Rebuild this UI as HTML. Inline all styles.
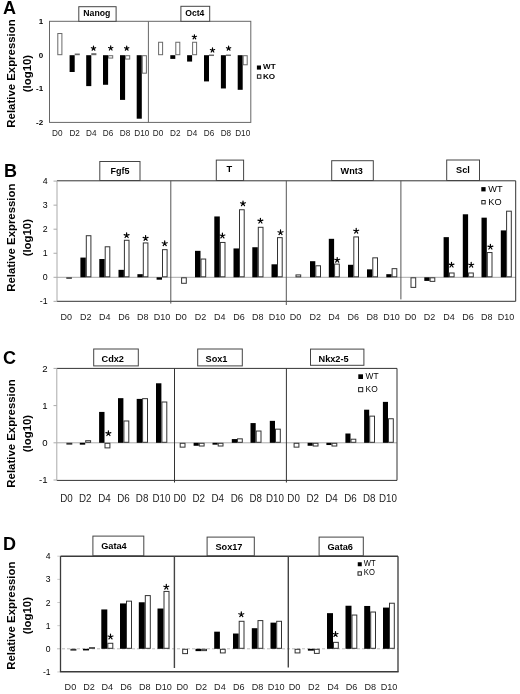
<!DOCTYPE html>
<html><head><meta charset="utf-8"><style>
html,body{margin:0;padding:0;background:#fff;}
svg{display:block;filter:blur(0.35px);}
text{font-family:"Liberation Sans", sans-serif;}
</style></head><body>
<svg width="520" height="694" viewBox="0 0 520 694">
<rect x="0" y="0" width="520" height="694" fill="#fff"/>
<text x="3.00" y="14.20" font-size="18" font-weight="bold" text-anchor="start" fill="#000" >A</text>
<text transform="translate(14.80,73.50) rotate(-90)" font-size="11.4" font-weight="bold" text-anchor="middle" fill="#000">Relative Expression</text>
<text transform="translate(30.50,73.50) rotate(-90)" font-size="11.4" font-weight="bold" text-anchor="middle" fill="#000">(log10)</text>
<text x="43.10" y="24.10" font-size="8.0" font-weight="bold" text-anchor="end" fill="#000" >1</text>
<text x="43.10" y="57.70" font-size="8.0" font-weight="bold" text-anchor="end" fill="#000" >0</text>
<text x="43.10" y="91.30" font-size="8.0" font-weight="bold" text-anchor="end" fill="#000" >-1</text>
<text x="43.10" y="124.90" font-size="8.0" font-weight="bold" text-anchor="end" fill="#000" >-2</text>
<rect x="49.50" y="21.30" width="201.30" height="101.10" fill="none" stroke="#666" stroke-width="1"/>
<line x1="148.40" y1="21.30" x2="148.40" y2="122.40" stroke="#666" stroke-width="1" />
<rect x="78.80" y="6.70" width="37.30" height="14.60" fill="#fff" stroke="#444" stroke-width="1"/>
<text x="83.30" y="16.10" font-size="8.7" font-weight="bold" text-anchor="start" fill="#000" >Nanog</text>
<rect x="180.90" y="6.30" width="28.80" height="15.00" fill="#fff" stroke="#444" stroke-width="1"/>
<text x="185.30" y="16.00" font-size="8.6" font-weight="bold" text-anchor="start" fill="#000" >Oct4</text>
<rect x="57.80" y="33.52" width="4.10" height="21.18" fill="#fff" stroke="#6a6a6a" stroke-width="1"/>
<rect x="69.60" y="55.20" width="5.10" height="16.80" fill="#000"/>
<rect x="75.20" y="54.02" width="4.10" height="0.68" fill="#fff" stroke="#6a6a6a" stroke-width="1"/>
<rect x="86.20" y="55.20" width="5.10" height="30.91" fill="#000"/>
<rect x="91.80" y="53.68" width="4.10" height="1.02" fill="#fff" stroke="#6a6a6a" stroke-width="1"/>
<rect x="103.00" y="55.20" width="5.10" height="29.57" fill="#000"/>
<rect x="108.60" y="55.70" width="4.10" height="2.36" fill="#fff" stroke="#6a6a6a" stroke-width="1"/>
<rect x="120.00" y="55.20" width="5.10" height="44.69" fill="#000"/>
<rect x="125.60" y="55.70" width="4.10" height="3.37" fill="#fff" stroke="#6a6a6a" stroke-width="1"/>
<rect x="136.70" y="55.20" width="5.10" height="63.50" fill="#000"/>
<rect x="142.30" y="55.70" width="4.10" height="17.48" fill="#fff" stroke="#6a6a6a" stroke-width="1"/>
<path d="M93.50,48.40L93.50,46.15M93.50,48.40L95.64,47.70M93.50,48.40L94.82,50.22M93.50,48.40L92.18,50.22M93.50,48.40L91.36,47.70" stroke="#000" stroke-width="1.2" stroke-linecap="round" fill="none"/>
<path d="M110.70,48.20L110.70,45.95M110.70,48.20L112.84,47.50M110.70,48.20L112.02,50.02M110.70,48.20L109.38,50.02M110.70,48.20L108.56,47.50" stroke="#000" stroke-width="1.2" stroke-linecap="round" fill="none"/>
<path d="M126.70,48.40L126.70,46.15M126.70,48.40L128.84,47.70M126.70,48.40L128.02,50.22M126.70,48.40L125.38,50.22M126.70,48.40L124.56,47.70" stroke="#000" stroke-width="1.2" stroke-linecap="round" fill="none"/>
<text x="57.30" y="135.80" font-size="8.2" font-weight="normal" text-anchor="middle" fill="#222" >D0</text>
<text x="74.70" y="135.80" font-size="8.2" font-weight="normal" text-anchor="middle" fill="#222" >D2</text>
<text x="91.30" y="135.80" font-size="8.2" font-weight="normal" text-anchor="middle" fill="#222" >D4</text>
<text x="108.10" y="135.80" font-size="8.2" font-weight="normal" text-anchor="middle" fill="#222" >D6</text>
<text x="125.10" y="135.80" font-size="8.2" font-weight="normal" text-anchor="middle" fill="#222" >D8</text>
<text x="141.80" y="135.80" font-size="8.2" font-weight="normal" text-anchor="middle" fill="#222" >D10</text>
<rect x="158.60" y="42.26" width="4.00" height="12.44" fill="#fff" stroke="#6a6a6a" stroke-width="1"/>
<rect x="170.30" y="55.20" width="5.00" height="3.70" fill="#000"/>
<rect x="175.80" y="42.26" width="4.00" height="12.44" fill="#fff" stroke="#6a6a6a" stroke-width="1"/>
<rect x="187.10" y="55.20" width="5.00" height="6.38" fill="#000"/>
<rect x="192.60" y="42.26" width="4.00" height="12.44" fill="#fff" stroke="#6a6a6a" stroke-width="1"/>
<rect x="204.00" y="55.20" width="5.00" height="26.21" fill="#000"/>
<rect x="209.50" y="55.03" width="4.00" height="0.50" fill="#fff" stroke="#6a6a6a" stroke-width="1"/>
<rect x="220.90" y="55.20" width="5.00" height="33.26" fill="#000"/>
<rect x="226.40" y="55.03" width="4.00" height="0.50" fill="#fff" stroke="#6a6a6a" stroke-width="1"/>
<rect x="237.70" y="55.20" width="5.00" height="34.61" fill="#000"/>
<rect x="243.20" y="55.70" width="4.00" height="9.08" fill="#fff" stroke="#6a6a6a" stroke-width="1"/>
<path d="M194.40,37.00L194.40,34.75M194.40,37.00L196.54,36.30M194.40,37.00L195.72,38.82M194.40,37.00L193.08,38.82M194.40,37.00L192.26,36.30" stroke="#000" stroke-width="1.2" stroke-linecap="round" fill="none"/>
<path d="M212.50,50.20L212.50,47.95M212.50,50.20L214.64,49.50M212.50,50.20L213.82,52.02M212.50,50.20L211.18,52.02M212.50,50.20L210.36,49.50" stroke="#000" stroke-width="1.2" stroke-linecap="round" fill="none"/>
<path d="M228.60,48.40L228.60,46.15M228.60,48.40L230.74,47.70M228.60,48.40L229.92,50.22M228.60,48.40L227.28,50.22M228.60,48.40L226.46,47.70" stroke="#000" stroke-width="1.2" stroke-linecap="round" fill="none"/>
<text x="158.10" y="135.80" font-size="8.2" font-weight="normal" text-anchor="middle" fill="#222" >D0</text>
<text x="175.30" y="135.80" font-size="8.2" font-weight="normal" text-anchor="middle" fill="#222" >D2</text>
<text x="192.10" y="135.80" font-size="8.2" font-weight="normal" text-anchor="middle" fill="#222" >D4</text>
<text x="209.00" y="135.80" font-size="8.2" font-weight="normal" text-anchor="middle" fill="#222" >D6</text>
<text x="225.90" y="135.80" font-size="8.2" font-weight="normal" text-anchor="middle" fill="#222" >D8</text>
<text x="242.70" y="135.80" font-size="8.2" font-weight="normal" text-anchor="middle" fill="#222" >D10</text>
<rect x="256.90" y="65.50" width="4.10" height="4.10" fill="#000"/>
<rect x="257.40" y="74.80" width="3.50" height="3.50" fill="#fff" stroke="#222" stroke-width="1"/>
<text x="263.00" y="69.30" font-size="8.1" font-weight="bold" text-anchor="start" fill="#000" >WT</text>
<text x="263.00" y="78.70" font-size="8.1" font-weight="bold" text-anchor="start" fill="#000" >KO</text>
<text x="4.00" y="176.50" font-size="18" font-weight="bold" text-anchor="start" fill="#000" >B</text>
<text transform="translate(14.80,237.70) rotate(-90)" font-size="11.4" font-weight="bold" text-anchor="middle" fill="#000">Relative Expression</text>
<text transform="translate(30.50,237.70) rotate(-90)" font-size="11.4" font-weight="bold" text-anchor="middle" fill="#000">(log10)</text>
<text x="47.60" y="184.20" font-size="8.8" font-weight="normal" text-anchor="end" fill="#000" >4</text>
<line x1="53.50" y1="181.10" x2="57.00" y2="181.10" stroke="#aaa" stroke-width="1" />
<text x="47.60" y="208.25" font-size="8.8" font-weight="normal" text-anchor="end" fill="#000" >3</text>
<line x1="53.50" y1="205.15" x2="57.00" y2="205.15" stroke="#aaa" stroke-width="1" />
<text x="47.60" y="232.30" font-size="8.8" font-weight="normal" text-anchor="end" fill="#000" >2</text>
<line x1="53.50" y1="229.20" x2="57.00" y2="229.20" stroke="#aaa" stroke-width="1" />
<text x="47.60" y="256.35" font-size="8.8" font-weight="normal" text-anchor="end" fill="#000" >1</text>
<line x1="53.50" y1="253.25" x2="57.00" y2="253.25" stroke="#aaa" stroke-width="1" />
<text x="47.60" y="280.40" font-size="8.8" font-weight="normal" text-anchor="end" fill="#000" >0</text>
<line x1="53.50" y1="277.30" x2="57.00" y2="277.30" stroke="#aaa" stroke-width="1" />
<text x="47.60" y="304.45" font-size="8.8" font-weight="normal" text-anchor="end" fill="#000" >-1</text>
<line x1="53.50" y1="301.35" x2="57.00" y2="301.35" stroke="#aaa" stroke-width="1" />
<line x1="57.00" y1="277.30" x2="515.70" y2="277.30" stroke="#aaa" stroke-width="1" />
<line x1="57.00" y1="180.80" x2="515.70" y2="180.80" stroke="#333" stroke-width="1" />
<line x1="57.00" y1="301.30" x2="515.70" y2="301.30" stroke="#333" stroke-width="1" />
<line x1="515.70" y1="180.80" x2="515.70" y2="301.30" stroke="#333" stroke-width="1" />
<line x1="57.00" y1="180.80" x2="57.00" y2="301.30" stroke="#aaa" stroke-width="1" />
<line x1="170.80" y1="180.80" x2="170.80" y2="303.60" stroke="#555" stroke-width="1" />
<line x1="286.30" y1="180.80" x2="286.30" y2="305.00" stroke="#555" stroke-width="1" />
<line x1="400.90" y1="180.80" x2="400.90" y2="299.40" stroke="#555" stroke-width="1" />
<rect x="99.80" y="161.50" width="40.20" height="19.00" fill="#fff" stroke="#444" stroke-width="1"/>
<text x="110.40" y="173.75" font-size="9" font-weight="bold" text-anchor="start" fill="#000" >Fgf5</text>
<rect x="216.30" y="160.10" width="27.30" height="20.40" fill="#fff" stroke="#444" stroke-width="1"/>
<text x="226.60" y="172.30" font-size="9.3" font-weight="bold" text-anchor="start" fill="#000" >T</text>
<rect x="331.70" y="160.70" width="41.60" height="19.80" fill="#fff" stroke="#444" stroke-width="1"/>
<text x="340.60" y="173.70" font-size="9.1" font-weight="bold" text-anchor="start" fill="#000" >Wnt3</text>
<rect x="446.70" y="160.00" width="32.80" height="20.50" fill="#fff" stroke="#444" stroke-width="1"/>
<text x="456.10" y="172.70" font-size="9.2" font-weight="bold" text-anchor="start" fill="#000" >Scl</text>
<rect x="66.80" y="277.80" width="4.60" height="0.50" fill="#fff" stroke="#333" stroke-width="1"/>
<rect x="80.40" y="257.58" width="5.40" height="19.72" fill="#000"/>
<rect x="86.30" y="235.71" width="4.60" height="41.09" fill="#fff" stroke="#333" stroke-width="1"/>
<rect x="99.30" y="259.02" width="5.40" height="18.28" fill="#000"/>
<rect x="105.20" y="246.78" width="4.60" height="30.02" fill="#fff" stroke="#333" stroke-width="1"/>
<rect x="118.50" y="269.84" width="5.40" height="7.46" fill="#000"/>
<rect x="124.40" y="240.28" width="4.60" height="36.52" fill="#fff" stroke="#333" stroke-width="1"/>
<rect x="137.40" y="274.17" width="5.40" height="3.13" fill="#000"/>
<rect x="143.30" y="242.93" width="4.60" height="33.87" fill="#fff" stroke="#333" stroke-width="1"/>
<rect x="156.60" y="277.30" width="5.40" height="2.40" fill="#000"/>
<rect x="162.50" y="249.66" width="4.60" height="27.14" fill="#fff" stroke="#333" stroke-width="1"/>
<path d="M126.60,235.40L126.60,232.80M126.60,235.40L129.07,234.60M126.60,235.40L128.13,237.50M126.60,235.40L125.07,237.50M126.60,235.40L124.13,234.60" stroke="#000" stroke-width="1.2" stroke-linecap="round" fill="none"/>
<path d="M145.60,238.20L145.60,235.60M145.60,238.20L148.07,237.40M145.60,238.20L147.13,240.30M145.60,238.20L144.07,240.30M145.60,238.20L143.13,237.40" stroke="#000" stroke-width="1.2" stroke-linecap="round" fill="none"/>
<path d="M164.70,243.50L164.70,240.90M164.70,243.50L167.17,242.70M164.70,243.50L166.23,245.60M164.70,243.50L163.17,245.60M164.70,243.50L162.23,242.70" stroke="#000" stroke-width="1.2" stroke-linecap="round" fill="none"/>
<text x="66.30" y="320.00" font-size="9" font-weight="normal" text-anchor="middle" fill="#222" >D0</text>
<text x="85.80" y="320.00" font-size="9" font-weight="normal" text-anchor="middle" fill="#222" >D2</text>
<text x="104.70" y="320.00" font-size="9" font-weight="normal" text-anchor="middle" fill="#222" >D4</text>
<text x="123.90" y="320.00" font-size="9" font-weight="normal" text-anchor="middle" fill="#222" >D6</text>
<text x="142.80" y="320.00" font-size="9" font-weight="normal" text-anchor="middle" fill="#222" >D8</text>
<text x="162.00" y="320.00" font-size="9" font-weight="normal" text-anchor="middle" fill="#222" >D10</text>
<rect x="181.60" y="277.80" width="4.70" height="5.49" fill="#fff" stroke="#333" stroke-width="1"/>
<rect x="195.00" y="250.84" width="5.50" height="26.46" fill="#000"/>
<rect x="201.00" y="259.04" width="4.70" height="17.76" fill="#fff" stroke="#333" stroke-width="1"/>
<rect x="214.30" y="216.45" width="5.50" height="60.85" fill="#000"/>
<rect x="220.30" y="242.45" width="4.70" height="34.35" fill="#fff" stroke="#333" stroke-width="1"/>
<rect x="233.50" y="248.44" width="5.50" height="28.86" fill="#000"/>
<rect x="239.50" y="209.74" width="4.70" height="67.06" fill="#fff" stroke="#333" stroke-width="1"/>
<rect x="252.30" y="247.24" width="5.50" height="30.06" fill="#000"/>
<rect x="258.30" y="227.30" width="4.70" height="49.50" fill="#fff" stroke="#333" stroke-width="1"/>
<rect x="271.50" y="264.31" width="5.50" height="12.99" fill="#000"/>
<rect x="277.50" y="237.64" width="4.70" height="39.16" fill="#fff" stroke="#333" stroke-width="1"/>
<path d="M222.40,235.80L222.40,233.20M222.40,235.80L224.87,235.00M222.40,235.80L223.93,237.90M222.40,235.80L220.87,237.90M222.40,235.80L219.93,235.00" stroke="#000" stroke-width="1.2" stroke-linecap="round" fill="none"/>
<path d="M243.00,203.60L243.00,201.00M243.00,203.60L245.47,202.80M243.00,203.60L244.53,205.70M243.00,203.60L241.47,205.70M243.00,203.60L240.53,202.80" stroke="#000" stroke-width="1.2" stroke-linecap="round" fill="none"/>
<path d="M260.40,220.90L260.40,218.30M260.40,220.90L262.87,220.10M260.40,220.90L261.93,223.00M260.40,220.90L258.87,223.00M260.40,220.90L257.93,220.10" stroke="#000" stroke-width="1.2" stroke-linecap="round" fill="none"/>
<path d="M280.50,232.50L280.50,229.90M280.50,232.50L282.97,231.70M280.50,232.50L282.03,234.60M280.50,232.50L278.97,234.60M280.50,232.50L278.03,231.70" stroke="#000" stroke-width="1.2" stroke-linecap="round" fill="none"/>
<text x="181.10" y="320.00" font-size="9" font-weight="normal" text-anchor="middle" fill="#222" >D0</text>
<text x="200.50" y="320.00" font-size="9" font-weight="normal" text-anchor="middle" fill="#222" >D2</text>
<text x="219.80" y="320.00" font-size="9" font-weight="normal" text-anchor="middle" fill="#222" >D4</text>
<text x="239.00" y="320.00" font-size="9" font-weight="normal" text-anchor="middle" fill="#222" >D6</text>
<text x="257.80" y="320.00" font-size="9" font-weight="normal" text-anchor="middle" fill="#222" >D8</text>
<text x="277.00" y="320.00" font-size="9" font-weight="normal" text-anchor="middle" fill="#222" >D10</text>
<rect x="296.00" y="274.91" width="4.70" height="1.89" fill="#fff" stroke="#333" stroke-width="1"/>
<rect x="310.00" y="261.19" width="5.30" height="16.11" fill="#000"/>
<rect x="315.80" y="265.78" width="4.70" height="11.02" fill="#fff" stroke="#333" stroke-width="1"/>
<rect x="328.80" y="238.82" width="5.30" height="38.48" fill="#000"/>
<rect x="334.60" y="264.09" width="4.70" height="12.71" fill="#fff" stroke="#333" stroke-width="1"/>
<rect x="348.00" y="264.79" width="5.30" height="12.51" fill="#000"/>
<rect x="353.80" y="236.92" width="4.70" height="39.88" fill="#fff" stroke="#333" stroke-width="1"/>
<rect x="367.00" y="269.36" width="5.30" height="7.94" fill="#000"/>
<rect x="372.80" y="257.84" width="4.70" height="18.96" fill="#fff" stroke="#333" stroke-width="1"/>
<rect x="386.30" y="274.17" width="5.30" height="3.13" fill="#000"/>
<rect x="392.10" y="268.66" width="4.70" height="8.14" fill="#fff" stroke="#333" stroke-width="1"/>
<path d="M337.20,260.10L337.20,257.50M337.20,260.10L339.67,259.30M337.20,260.10L338.73,262.20M337.20,260.10L335.67,262.20M337.20,260.10L334.73,259.30" stroke="#000" stroke-width="1.2" stroke-linecap="round" fill="none"/>
<path d="M356.20,231.00L356.20,228.40M356.20,231.00L358.67,230.20M356.20,231.00L357.73,233.10M356.20,231.00L354.67,233.10M356.20,231.00L353.73,230.20" stroke="#000" stroke-width="1.2" stroke-linecap="round" fill="none"/>
<text x="295.50" y="320.00" font-size="9" font-weight="normal" text-anchor="middle" fill="#222" >D0</text>
<text x="315.30" y="320.00" font-size="9" font-weight="normal" text-anchor="middle" fill="#222" >D2</text>
<text x="334.10" y="320.00" font-size="9" font-weight="normal" text-anchor="middle" fill="#222" >D4</text>
<text x="353.30" y="320.00" font-size="9" font-weight="normal" text-anchor="middle" fill="#222" >D6</text>
<text x="372.30" y="320.00" font-size="9" font-weight="normal" text-anchor="middle" fill="#222" >D8</text>
<text x="391.60" y="320.00" font-size="9" font-weight="normal" text-anchor="middle" fill="#222" >D10</text>
<rect x="411.00" y="277.80" width="4.70" height="9.58" fill="#fff" stroke="#333" stroke-width="1"/>
<rect x="424.30" y="277.30" width="5.30" height="3.61" fill="#000"/>
<rect x="430.10" y="277.80" width="4.70" height="3.57" fill="#fff" stroke="#333" stroke-width="1"/>
<rect x="443.60" y="237.14" width="5.30" height="40.16" fill="#000"/>
<rect x="449.40" y="272.99" width="4.70" height="3.81" fill="#fff" stroke="#333" stroke-width="1"/>
<rect x="462.80" y="214.29" width="5.30" height="63.01" fill="#000"/>
<rect x="468.60" y="272.99" width="4.70" height="3.81" fill="#fff" stroke="#333" stroke-width="1"/>
<rect x="481.50" y="217.66" width="5.30" height="59.64" fill="#000"/>
<rect x="487.30" y="252.55" width="4.70" height="24.25" fill="#fff" stroke="#333" stroke-width="1"/>
<rect x="500.80" y="230.40" width="5.30" height="46.90" fill="#000"/>
<rect x="506.60" y="211.18" width="4.70" height="65.62" fill="#fff" stroke="#333" stroke-width="1"/>
<path d="M451.50,264.90L451.50,262.30M451.50,264.90L453.97,264.10M451.50,264.90L453.03,267.00M451.50,264.90L449.97,267.00M451.50,264.90L449.03,264.10" stroke="#000" stroke-width="1.2" stroke-linecap="round" fill="none"/>
<path d="M471.20,265.00L471.20,262.40M471.20,265.00L473.67,264.20M471.20,265.00L472.73,267.10M471.20,265.00L469.67,267.10M471.20,265.00L468.73,264.20" stroke="#000" stroke-width="1.2" stroke-linecap="round" fill="none"/>
<path d="M490.40,246.90L490.40,244.30M490.40,246.90L492.87,246.10M490.40,246.90L491.93,249.00M490.40,246.90L488.87,249.00M490.40,246.90L487.93,246.10" stroke="#000" stroke-width="1.2" stroke-linecap="round" fill="none"/>
<text x="410.50" y="320.00" font-size="9" font-weight="normal" text-anchor="middle" fill="#222" >D0</text>
<text x="429.60" y="320.00" font-size="9" font-weight="normal" text-anchor="middle" fill="#222" >D2</text>
<text x="448.90" y="320.00" font-size="9" font-weight="normal" text-anchor="middle" fill="#222" >D4</text>
<text x="468.10" y="320.00" font-size="9" font-weight="normal" text-anchor="middle" fill="#222" >D6</text>
<text x="486.80" y="320.00" font-size="9" font-weight="normal" text-anchor="middle" fill="#222" >D8</text>
<text x="506.10" y="320.00" font-size="9" font-weight="normal" text-anchor="middle" fill="#222" >D10</text>
<rect x="481.30" y="187.10" width="4.30" height="4.30" fill="#000"/>
<rect x="481.80" y="200.50" width="3.40" height="3.40" fill="#fff" stroke="#222" stroke-width="1"/>
<text x="488.30" y="191.60" font-size="9.2" font-weight="normal" text-anchor="start" fill="#000" >WT</text>
<text x="488.30" y="205.00" font-size="9.2" font-weight="normal" text-anchor="start" fill="#000" >KO</text>
<text x="3.00" y="364.00" font-size="18" font-weight="bold" text-anchor="start" fill="#000" >C</text>
<text transform="translate(14.80,433.50) rotate(-90)" font-size="11.4" font-weight="bold" text-anchor="middle" fill="#000">Relative Expression</text>
<text transform="translate(30.50,433.50) rotate(-90)" font-size="11.4" font-weight="bold" text-anchor="middle" fill="#000">(log10)</text>
<text x="47.60" y="371.80" font-size="9.6" font-weight="normal" text-anchor="end" fill="#000" >2</text>
<line x1="53.50" y1="368.40" x2="56.80" y2="368.40" stroke="#aaa" stroke-width="1" />
<text x="47.60" y="409.00" font-size="9.6" font-weight="normal" text-anchor="end" fill="#000" >1</text>
<line x1="53.50" y1="405.60" x2="56.80" y2="405.60" stroke="#aaa" stroke-width="1" />
<text x="47.60" y="446.20" font-size="9.6" font-weight="normal" text-anchor="end" fill="#000" >0</text>
<line x1="53.50" y1="442.80" x2="56.80" y2="442.80" stroke="#aaa" stroke-width="1" />
<text x="47.60" y="483.40" font-size="9.6" font-weight="normal" text-anchor="end" fill="#000" >-1</text>
<line x1="53.50" y1="480.00" x2="56.80" y2="480.00" stroke="#aaa" stroke-width="1" />
<line x1="56.80" y1="442.80" x2="397.00" y2="442.80" stroke="#aaa" stroke-width="1" />
<line x1="56.80" y1="368.40" x2="397.00" y2="368.40" stroke="#333" stroke-width="1" />
<line x1="56.80" y1="480.40" x2="397.00" y2="480.40" stroke="#333" stroke-width="1" />
<line x1="397.00" y1="368.40" x2="397.00" y2="480.40" stroke="#333" stroke-width="1" />
<line x1="56.80" y1="368.40" x2="56.80" y2="480.40" stroke="#aaa" stroke-width="1" />
<line x1="174.50" y1="368.40" x2="174.50" y2="482.50" stroke="#333" stroke-width="1" />
<line x1="286.40" y1="368.40" x2="286.40" y2="482.50" stroke="#333" stroke-width="1" />
<rect x="93.70" y="349.00" width="44.60" height="16.90" fill="#fff" stroke="#444" stroke-width="1"/>
<text x="101.50" y="361.50" font-size="9.2" font-weight="bold" text-anchor="start" fill="#000" >Cdx2</text>
<rect x="197.70" y="349.00" width="44.60" height="16.90" fill="#fff" stroke="#444" stroke-width="1"/>
<text x="205.50" y="361.50" font-size="9.2" font-weight="bold" text-anchor="start" fill="#000" >Sox1</text>
<rect x="310.50" y="349.10" width="53.40" height="16.20" fill="#fff" stroke="#444" stroke-width="1"/>
<text x="318.50" y="361.50" font-size="9.2" font-weight="bold" text-anchor="start" fill="#000" >Nkx2-5</text>
<rect x="66.90" y="443.30" width="4.90" height="0.86" fill="#fff" stroke="#333" stroke-width="1"/>
<rect x="79.80" y="442.80" width="5.40" height="1.86" fill="#000"/>
<rect x="85.70" y="440.70" width="4.90" height="1.60" fill="#fff" stroke="#333" stroke-width="1"/>
<rect x="99.10" y="411.92" width="5.40" height="30.88" fill="#000"/>
<rect x="105.00" y="443.30" width="4.90" height="4.58" fill="#fff" stroke="#333" stroke-width="1"/>
<rect x="118.00" y="398.16" width="5.40" height="44.64" fill="#000"/>
<rect x="123.90" y="420.98" width="4.90" height="21.32" fill="#fff" stroke="#333" stroke-width="1"/>
<rect x="136.70" y="398.90" width="5.40" height="43.90" fill="#000"/>
<rect x="142.60" y="398.66" width="4.90" height="43.64" fill="#fff" stroke="#333" stroke-width="1"/>
<rect x="156.00" y="383.28" width="5.40" height="59.52" fill="#000"/>
<rect x="161.90" y="402.01" width="4.90" height="40.29" fill="#fff" stroke="#333" stroke-width="1"/>
<path d="M108.40,433.40L108.40,430.80M108.40,433.40L110.87,432.60M108.40,433.40L109.93,435.50M108.40,433.40L106.87,435.50M108.40,433.40L105.93,432.60" stroke="#000" stroke-width="1.2" stroke-linecap="round" fill="none"/>
<text transform="translate(66.40,502.40) scale(0.9,1)" font-size="10.9" text-anchor="middle" fill="#222">D0</text>
<text transform="translate(85.20,502.40) scale(0.9,1)" font-size="10.9" text-anchor="middle" fill="#222">D2</text>
<text transform="translate(104.50,502.40) scale(0.9,1)" font-size="10.9" text-anchor="middle" fill="#222">D4</text>
<text transform="translate(123.40,502.40) scale(0.9,1)" font-size="10.9" text-anchor="middle" fill="#222">D6</text>
<text transform="translate(142.10,502.40) scale(0.9,1)" font-size="10.9" text-anchor="middle" fill="#222">D8</text>
<text transform="translate(161.40,502.40) scale(0.9,1)" font-size="10.9" text-anchor="middle" fill="#222">D10</text>
<rect x="180.20" y="443.30" width="4.80" height="3.84" fill="#fff" stroke="#333" stroke-width="1"/>
<rect x="193.60" y="442.80" width="5.20" height="2.98" fill="#000"/>
<rect x="199.30" y="443.30" width="4.80" height="2.72" fill="#fff" stroke="#333" stroke-width="1"/>
<rect x="212.50" y="442.80" width="5.20" height="1.86" fill="#000"/>
<rect x="218.20" y="443.30" width="4.80" height="2.72" fill="#fff" stroke="#333" stroke-width="1"/>
<rect x="231.80" y="439.08" width="5.20" height="3.72" fill="#000"/>
<rect x="237.50" y="438.84" width="4.80" height="3.46" fill="#fff" stroke="#333" stroke-width="1"/>
<rect x="250.50" y="423.08" width="5.20" height="19.72" fill="#000"/>
<rect x="256.20" y="431.02" width="4.80" height="11.28" fill="#fff" stroke="#333" stroke-width="1"/>
<rect x="269.80" y="420.85" width="5.20" height="21.95" fill="#000"/>
<rect x="275.50" y="429.16" width="4.80" height="13.14" fill="#fff" stroke="#333" stroke-width="1"/>
<text transform="translate(179.70,502.40) scale(0.9,1)" font-size="10.9" text-anchor="middle" fill="#222">D0</text>
<text transform="translate(198.80,502.40) scale(0.9,1)" font-size="10.9" text-anchor="middle" fill="#222">D2</text>
<text transform="translate(217.70,502.40) scale(0.9,1)" font-size="10.9" text-anchor="middle" fill="#222">D4</text>
<text transform="translate(237.00,502.40) scale(0.9,1)" font-size="10.9" text-anchor="middle" fill="#222">D6</text>
<text transform="translate(255.70,502.40) scale(0.9,1)" font-size="10.9" text-anchor="middle" fill="#222">D8</text>
<text transform="translate(275.00,502.40) scale(0.9,1)" font-size="10.9" text-anchor="middle" fill="#222">D10</text>
<rect x="294.10" y="443.30" width="4.80" height="3.84" fill="#fff" stroke="#333" stroke-width="1"/>
<rect x="307.60" y="442.80" width="5.10" height="2.98" fill="#000"/>
<rect x="313.20" y="443.30" width="4.80" height="2.72" fill="#fff" stroke="#333" stroke-width="1"/>
<rect x="326.40" y="442.80" width="5.10" height="2.23" fill="#000"/>
<rect x="332.00" y="443.30" width="4.80" height="2.72" fill="#fff" stroke="#333" stroke-width="1"/>
<rect x="345.40" y="433.50" width="5.10" height="9.30" fill="#000"/>
<rect x="351.00" y="439.21" width="4.80" height="3.09" fill="#fff" stroke="#333" stroke-width="1"/>
<rect x="364.10" y="409.69" width="5.10" height="33.11" fill="#000"/>
<rect x="369.70" y="416.14" width="4.80" height="26.16" fill="#fff" stroke="#333" stroke-width="1"/>
<rect x="382.90" y="401.88" width="5.10" height="40.92" fill="#000"/>
<rect x="388.50" y="418.75" width="4.80" height="23.55" fill="#fff" stroke="#333" stroke-width="1"/>
<text transform="translate(293.60,502.40) scale(0.9,1)" font-size="10.9" text-anchor="middle" fill="#222">D0</text>
<text transform="translate(312.70,502.40) scale(0.9,1)" font-size="10.9" text-anchor="middle" fill="#222">D2</text>
<text transform="translate(331.50,502.40) scale(0.9,1)" font-size="10.9" text-anchor="middle" fill="#222">D4</text>
<text transform="translate(350.50,502.40) scale(0.9,1)" font-size="10.9" text-anchor="middle" fill="#222">D6</text>
<text transform="translate(369.20,502.40) scale(0.9,1)" font-size="10.9" text-anchor="middle" fill="#222">D8</text>
<text transform="translate(388.00,502.40) scale(0.9,1)" font-size="10.9" text-anchor="middle" fill="#222">D10</text>
<rect x="358.30" y="374.30" width="4.70" height="4.70" fill="#000"/>
<rect x="358.60" y="387.60" width="4.10" height="4.10" fill="#fff" stroke="#222" stroke-width="1"/>
<text x="365.60" y="378.80" font-size="8.4" font-weight="normal" text-anchor="start" fill="#000" >WT</text>
<text x="365.60" y="391.70" font-size="8.4" font-weight="normal" text-anchor="start" fill="#000" >KO</text>
<text x="3.00" y="549.50" font-size="18" font-weight="bold" text-anchor="start" fill="#000" >D</text>
<text transform="translate(14.80,615.70) rotate(-90)" font-size="11.4" font-weight="bold" text-anchor="middle" fill="#000">Relative Expression</text>
<text transform="translate(30.50,615.70) rotate(-90)" font-size="11.4" font-weight="bold" text-anchor="middle" fill="#000">(log10)</text>
<text x="50.60" y="559.20" font-size="8.6" font-weight="normal" text-anchor="end" fill="#000" >4</text>
<line x1="57.30" y1="556.20" x2="60.00" y2="556.20" stroke="#ccc" stroke-width="1" />
<text x="50.60" y="582.35" font-size="8.6" font-weight="normal" text-anchor="end" fill="#000" >3</text>
<line x1="57.30" y1="579.35" x2="60.00" y2="579.35" stroke="#ccc" stroke-width="1" />
<text x="50.60" y="605.50" font-size="8.6" font-weight="normal" text-anchor="end" fill="#000" >2</text>
<line x1="57.30" y1="602.50" x2="60.00" y2="602.50" stroke="#ccc" stroke-width="1" />
<text x="50.60" y="628.65" font-size="8.6" font-weight="normal" text-anchor="end" fill="#000" >1</text>
<line x1="57.30" y1="625.65" x2="60.00" y2="625.65" stroke="#ccc" stroke-width="1" />
<text x="50.60" y="651.80" font-size="8.6" font-weight="normal" text-anchor="end" fill="#000" >0</text>
<text x="50.60" y="674.95" font-size="8.6" font-weight="normal" text-anchor="end" fill="#000" >-1</text>
<line x1="57.30" y1="671.95" x2="60.00" y2="671.95" stroke="#ccc" stroke-width="1" />
<line x1="57.00" y1="648.80" x2="398.00" y2="648.80" stroke="#bbb" stroke-width="1" stroke-dasharray="3,2"/>
<line x1="60.50" y1="556.20" x2="398.00" y2="556.20" stroke="#3a3a3a" stroke-width="1.5" />
<line x1="59.90" y1="671.70" x2="398.60" y2="671.70" stroke="#3a3a3a" stroke-width="1.5" />
<line x1="398.00" y1="556.20" x2="398.00" y2="671.70" stroke="#3a3a3a" stroke-width="1.3" />
<line x1="60.50" y1="556.20" x2="60.50" y2="671.70" stroke="#3a3a3a" stroke-width="1.3" />
<line x1="174.40" y1="556.20" x2="174.40" y2="668.00" stroke="#444" stroke-width="1.4" />
<line x1="288.30" y1="556.20" x2="288.30" y2="667.60" stroke="#444" stroke-width="1.4" />
<rect x="92.90" y="536.10" width="50.90" height="19.60" fill="#fff" stroke="#444" stroke-width="1"/>
<text x="101.20" y="549.10" font-size="9.2" font-weight="bold" text-anchor="start" fill="#000" >Gata4</text>
<rect x="207.10" y="537.10" width="47.20" height="18.60" fill="#fff" stroke="#444" stroke-width="1"/>
<text x="215.40" y="549.70" font-size="9.2" font-weight="bold" text-anchor="start" fill="#000" >Sox17</text>
<rect x="319.10" y="537.10" width="44.20" height="18.60" fill="#fff" stroke="#444" stroke-width="1"/>
<text x="327.40" y="549.70" font-size="9.2" font-weight="bold" text-anchor="start" fill="#000" >Gata6</text>
<rect x="70.90" y="649.30" width="5.00" height="0.85" fill="#fff" stroke="#333" stroke-width="1"/>
<rect x="83.00" y="648.80" width="6.00" height="1.62" fill="#000"/>
<rect x="89.50" y="647.68" width="5.00" height="0.62" fill="#fff" stroke="#333" stroke-width="1"/>
<rect x="101.30" y="609.44" width="6.00" height="39.36" fill="#000"/>
<rect x="107.80" y="643.28" width="5.00" height="5.02" fill="#fff" stroke="#333" stroke-width="1"/>
<rect x="120.00" y="603.43" width="6.00" height="45.37" fill="#000"/>
<rect x="126.50" y="601.15" width="5.00" height="47.15" fill="#fff" stroke="#333" stroke-width="1"/>
<rect x="138.80" y="602.27" width="6.00" height="46.53" fill="#000"/>
<rect x="145.30" y="595.59" width="5.00" height="52.71" fill="#fff" stroke="#333" stroke-width="1"/>
<rect x="157.50" y="608.52" width="6.00" height="40.28" fill="#000"/>
<rect x="164.00" y="591.42" width="5.00" height="56.88" fill="#fff" stroke="#333" stroke-width="1"/>
<path d="M110.50,636.80L110.50,634.20M110.50,636.80L112.97,636.00M110.50,636.80L112.03,638.90M110.50,636.80L108.97,638.90M110.50,636.80L108.03,636.00" stroke="#000" stroke-width="1.2" stroke-linecap="round" fill="none"/>
<path d="M166.30,587.00L166.30,584.40M166.30,587.00L168.77,586.20M166.30,587.00L167.83,589.10M166.30,587.00L164.77,589.10M166.30,587.00L163.83,586.20" stroke="#000" stroke-width="1.2" stroke-linecap="round" fill="none"/>
<text x="70.40" y="690.40" font-size="9.1" font-weight="normal" text-anchor="middle" fill="#222" >D0</text>
<text x="89.00" y="690.40" font-size="9.1" font-weight="normal" text-anchor="middle" fill="#222" >D2</text>
<text x="107.30" y="690.40" font-size="9.1" font-weight="normal" text-anchor="middle" fill="#222" >D4</text>
<text x="126.00" y="690.40" font-size="9.1" font-weight="normal" text-anchor="middle" fill="#222" >D6</text>
<text x="144.80" y="690.40" font-size="9.1" font-weight="normal" text-anchor="middle" fill="#222" >D8</text>
<text x="163.50" y="690.40" font-size="9.1" font-weight="normal" text-anchor="middle" fill="#222" >D10</text>
<rect x="182.70" y="649.30" width="4.80" height="4.32" fill="#fff" stroke="#333" stroke-width="1"/>
<rect x="195.50" y="648.80" width="5.70" height="2.32" fill="#000"/>
<rect x="201.70" y="649.30" width="4.80" height="1.32" fill="#fff" stroke="#333" stroke-width="1"/>
<rect x="214.20" y="631.67" width="5.70" height="17.13" fill="#000"/>
<rect x="220.40" y="649.30" width="4.80" height="3.63" fill="#fff" stroke="#333" stroke-width="1"/>
<rect x="233.00" y="633.52" width="5.70" height="15.28" fill="#000"/>
<rect x="239.20" y="621.29" width="4.80" height="27.01" fill="#fff" stroke="#333" stroke-width="1"/>
<rect x="251.80" y="628.20" width="5.70" height="20.60" fill="#000"/>
<rect x="258.00" y="620.59" width="4.80" height="27.71" fill="#fff" stroke="#333" stroke-width="1"/>
<rect x="270.50" y="622.64" width="5.70" height="26.16" fill="#000"/>
<rect x="276.70" y="621.29" width="4.80" height="27.01" fill="#fff" stroke="#333" stroke-width="1"/>
<path d="M241.30,614.50L241.30,611.90M241.30,614.50L243.77,613.70M241.30,614.50L242.83,616.60M241.30,614.50L239.77,616.60M241.30,614.50L238.83,613.70" stroke="#000" stroke-width="1.2" stroke-linecap="round" fill="none"/>
<text x="182.20" y="690.40" font-size="9.1" font-weight="normal" text-anchor="middle" fill="#222" >D0</text>
<text x="201.20" y="690.40" font-size="9.1" font-weight="normal" text-anchor="middle" fill="#222" >D2</text>
<text x="219.90" y="690.40" font-size="9.1" font-weight="normal" text-anchor="middle" fill="#222" >D4</text>
<text x="238.70" y="690.40" font-size="9.1" font-weight="normal" text-anchor="middle" fill="#222" >D6</text>
<text x="257.50" y="690.40" font-size="9.1" font-weight="normal" text-anchor="middle" fill="#222" >D8</text>
<text x="276.20" y="690.40" font-size="9.1" font-weight="normal" text-anchor="middle" fill="#222" >D10</text>
<rect x="295.10" y="649.30" width="4.80" height="3.63" fill="#fff" stroke="#333" stroke-width="1"/>
<rect x="307.90" y="648.80" width="6.00" height="1.85" fill="#000"/>
<rect x="314.40" y="649.30" width="4.80" height="4.09" fill="#fff" stroke="#333" stroke-width="1"/>
<rect x="327.00" y="613.15" width="6.00" height="35.65" fill="#000"/>
<rect x="333.50" y="642.35" width="4.80" height="5.95" fill="#fff" stroke="#333" stroke-width="1"/>
<rect x="345.50" y="605.74" width="6.00" height="43.06" fill="#000"/>
<rect x="352.00" y="615.04" width="4.80" height="33.26" fill="#fff" stroke="#333" stroke-width="1"/>
<rect x="364.20" y="605.97" width="6.00" height="42.83" fill="#000"/>
<rect x="370.70" y="612.03" width="4.80" height="36.27" fill="#fff" stroke="#333" stroke-width="1"/>
<rect x="383.00" y="607.59" width="6.00" height="41.21" fill="#000"/>
<rect x="389.50" y="603.23" width="4.80" height="45.07" fill="#fff" stroke="#333" stroke-width="1"/>
<path d="M335.50,634.30L335.50,631.70M335.50,634.30L337.97,633.50M335.50,634.30L337.03,636.40M335.50,634.30L333.97,636.40M335.50,634.30L333.03,633.50" stroke="#000" stroke-width="1.2" stroke-linecap="round" fill="none"/>
<text x="294.60" y="690.40" font-size="9.1" font-weight="normal" text-anchor="middle" fill="#222" >D0</text>
<text x="313.90" y="690.40" font-size="9.1" font-weight="normal" text-anchor="middle" fill="#222" >D2</text>
<text x="333.00" y="690.40" font-size="9.1" font-weight="normal" text-anchor="middle" fill="#222" >D4</text>
<text x="351.50" y="690.40" font-size="9.1" font-weight="normal" text-anchor="middle" fill="#222" >D6</text>
<text x="370.20" y="690.40" font-size="9.1" font-weight="normal" text-anchor="middle" fill="#222" >D8</text>
<text x="389.00" y="690.40" font-size="9.1" font-weight="normal" text-anchor="middle" fill="#222" >D10</text>
<rect x="357.75" y="562.25" width="4.00" height="4.00" fill="#000"/>
<rect x="358.00" y="571.80" width="3.40" height="3.40" fill="#fff" stroke="#222" stroke-width="1"/>
<text transform="translate(363.80,565.80) scale(0.93,1)" font-size="8.2" font-weight="normal" fill="#000">WT</text>
<text transform="translate(363.80,575.40) scale(0.93,1)" font-size="8.2" font-weight="normal" fill="#000">KO</text>
</svg>
</body></html>
